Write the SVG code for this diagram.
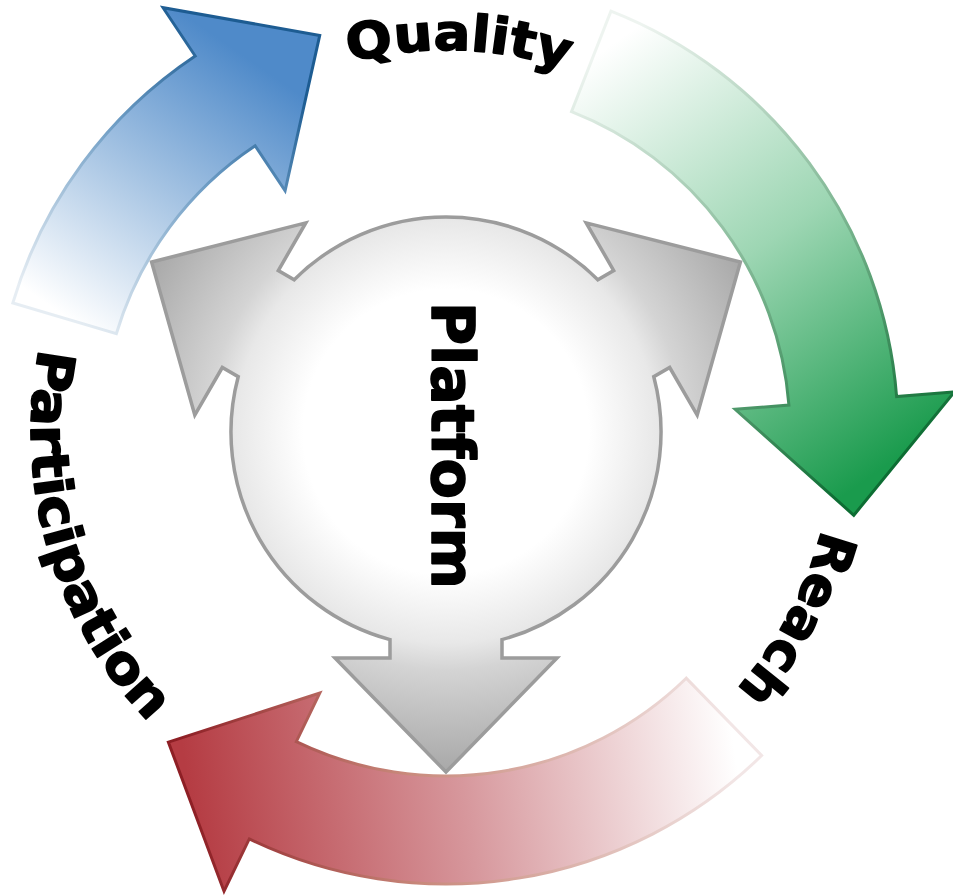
<svg xmlns="http://www.w3.org/2000/svg" width="953" height="895" viewBox="0 0 953 895">
<style>
.lbl{font-family:"DejaVu Sans","Liberation Sans",sans-serif;font-weight:bold;fill:#000;stroke:#000;stroke-width:1.6;stroke-linejoin:round;}
.arrow{stroke-width:3;stroke-linejoin:miter;}
</style>
<defs>
<radialGradient id="gGray" gradientUnits="userSpaceOnUse" cx="446" cy="432" r="340">
<stop offset="0" stop-color="#ffffff"/>
<stop offset="0.42" stop-color="#ffffff"/>
<stop offset="0.62" stop-color="#e8e8e8"/>
<stop offset="0.7" stop-color="#d4d4d4"/>
<stop offset="1" stop-color="#a8a8a8"/>
</radialGradient>
<linearGradient id="gBlue" gradientUnits="userSpaceOnUse" x1="70" y1="320" x2="250" y2="60">
<stop offset="0" stop-color="#ffffff"/>
<stop offset="0.5" stop-color="#a6c4e3"/>
<stop offset="1" stop-color="#4f8ac9"/>
</linearGradient>
<linearGradient id="sBlue" gradientUnits="userSpaceOnUse" x1="70" y1="320" x2="250" y2="60">
<stop offset="0" stop-color="#e6edf3"/>
<stop offset="0.6" stop-color="#6d9cc4"/>
<stop offset="1" stop-color="#1d5c92"/>
</linearGradient>
<linearGradient id="gGreen" gradientUnits="userSpaceOnUse" x1="590" y1="60" x2="880" y2="470">
<stop offset="0" stop-color="#ffffff"/>
<stop offset="0.5" stop-color="#9dd6b3"/>
<stop offset="1" stop-color="#1a9b4d"/>
</linearGradient>
<linearGradient id="sGreen" gradientUnits="userSpaceOnUse" x1="590" y1="60" x2="880" y2="470">
<stop offset="0" stop-color="#eef4f0"/>
<stop offset="0.6" stop-color="#6fae86"/>
<stop offset="1" stop-color="#0d6d33"/>
</linearGradient>
<linearGradient id="gRed" gradientUnits="userSpaceOnUse" x1="730" y1="720" x2="190" y2="800">
<stop offset="0" stop-color="#ffffff"/>
<stop offset="0.5" stop-color="#d7989d"/>
<stop offset="1" stop-color="#b53c43"/>
</linearGradient>
<linearGradient id="sRed" gradientUnits="userSpaceOnUse" x1="730" y1="720" x2="190" y2="800">
<stop offset="0" stop-color="#f2e6e6"/>
<stop offset="0.6" stop-color="#c98a7c"/>
<stop offset="1" stop-color="#8e1f25"/>
</linearGradient>
<path id="pQuality" d="M255,101.2 A382,382 0 0 1 637,101.2"/>
<path id="pReach" d="M834,432 A388,388 0 0 1 640,768"/>
<path id="pPart" d="M56.03,290.06 A415,415 0 0 0 207.97,771.95"/>
</defs>
<rect x="0" y="0" width="953" height="895" fill="#ffffff"/>

<g id="connectors">
<g id="arrow-quality">
<path class="arrow" fill="url(#gBlue)" stroke="url(#sBlue)" d="M12.84,302.87 A452,452 0 0 1 195.21,55.96 L163.03,7.71 L319.73,35.41 L285.10,190.73 L255.14,145.81 A344,344 0 0 0 116.34,333.72 Z"/>
</g>
<g id="arrow-reach">
<path class="arrow" fill="url(#gGreen)" stroke="url(#sGreen)" d="M610.93,11.16 A452,452 0 0 1 896.61,396.54 L954.43,391.99 L853.79,515.27 L735.11,409.25 L788.94,405.01 A344,344 0 0 0 571.52,111.72 Z"/>
</g>
<g id="arrow-participation">
<path class="arrow" fill="url(#gRed)" stroke="url(#sRed)" d="M761.64,755.54 A452,452 0 0 1 249.28,838.94 L224.03,891.16 L168.37,742.08 L319.78,693.09 L296.28,741.71 A344,344 0 0 0 686.22,678.23 Z"/>
</g>
</g>

<g id="platform">
<path fill="url(#gGray)" stroke="#9c9c9c" stroke-width="3.5" stroke-linejoin="miter" d="M502,639.6 L502,658 L557,658 L446,772 L335,658 L390,658 L390,639.6 A215,215 0 0 1 238.2,376.7 L222.3,367.5 L194.8,415.1 L151.6,262 L305.8,222.9 L278.3,270.5 L294.2,279.7 A215,215 0 0 1 597.8,279.7 L613.7,270.5 L586.2,222.9 L740.4,262 L697.2,415.1 L669.7,367.5 L653.8,376.7 A215,215 0 0 1 502,639.6 Z"/>
<text class="lbl" font-size="58" transform="translate(432,302) rotate(90)" x="0" y="0" textLength="287" lengthAdjust="spacingAndGlyphs">Platform</text>
</g>

<g id="quality">
<text class="lbl" font-size="50"><textPath href="#pQuality" startOffset="102.7" textLength="220" lengthAdjust="spacingAndGlyphs">Quality</textPath></text>
</g>
<g id="reach">
<text class="lbl" font-size="52"><textPath href="#pReach" startOffset="98.2" textLength="183" lengthAdjust="spacingAndGlyphs">Reach</textPath></text>
</g>
<g id="participation">
<text class="lbl" font-size="52"><textPath href="#pPart" startOffset="60.8" textLength="405" lengthAdjust="spacingAndGlyphs">Participation</textPath></text>
</g>
</svg>
